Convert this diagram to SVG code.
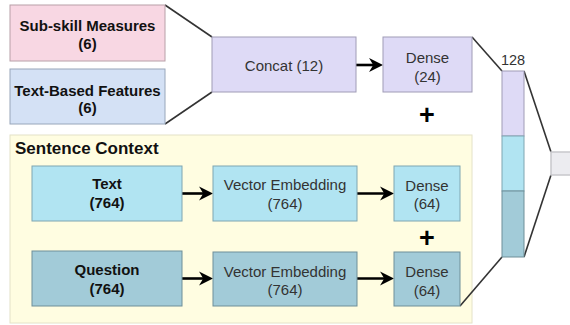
<svg xmlns="http://www.w3.org/2000/svg" width="570" height="325" viewBox="0 0 570 325">
  <defs>
    <style>
      text { font-family: "Liberation Sans", Arial, sans-serif; font-size: 15px; text-anchor: middle; fill: #333333; }
      .b { font-weight: bold; fill: #111111; }
      .plus { font-weight: bold; font-size: 27px; fill: #000000; }
      .edge { stroke: #333333; stroke-width: 1.6; fill: none; }
      .arrow { stroke: #000000; stroke-width: 2.6; fill: none; }
      .pink { fill: #f8d7e3; stroke: #b8a0a8; }
      .blue { fill: #d4e1f5; stroke: #98a6ba; }
      .lav { fill: #dedaf6; stroke: #a09cb6; }
      .cyan { fill: #b1e4f2; stroke: #7fa6b2; }
      .teal { fill: #a2cbd8; stroke: #6f8f99; }
    </style>
    <marker id="ah" viewBox="0 0 10 10" refX="7.1" refY="5" markerWidth="5.4" markerHeight="5.4" orient="auto">
      <path d="M0,0 L10,5 L0,10 L3,5 Z" fill="#000000"/>
    </marker>
  </defs>

  <!-- sentence context container -->
  <g id="sentence-context">
    <rect x="10" y="135" width="462" height="188" fill="#fffde1" stroke="#e4e2c8"/>
    <text x="15" y="154" class="b" style="text-anchor:start;font-size:17px">Sentence Context</text>
  </g>

  <!-- fan-in / fan-out connectors -->
  <g id="connectors">
    <path class="edge" d="M165,5 L212,37"/>
    <path class="edge" d="M165,124 L212,92"/>
    <path class="edge" d="M472,37 L502,71"/>
    <path class="edge" d="M460,306 L502,257"/>
    <path class="edge" d="M524,71 L551,152"/>
    <path class="edge" d="M524,257 L551,175"/>
    <path class="arrow" d="M356,65 L379,65" marker-end="url(#ah)"/>
    <path class="arrow" d="M182,193.5 L209,193.5" marker-end="url(#ah)"/>
    <path class="arrow" d="M357,193.5 L390,193.5" marker-end="url(#ah)"/>
    <path class="arrow" d="M182,278.5 L209,278.5" marker-end="url(#ah)"/>
    <path class="arrow" d="M357,278.5 L390,278.5" marker-end="url(#ah)"/>
  </g>

  <g id="subskill">
    <rect class="pink" x="10" y="5" width="155" height="56"/>
    <text x="87.5" y="31" class="b">Sub-skill Measures</text>
    <text x="87.5" y="48.5" class="b">(6)</text>
  </g>
  <g id="textfeatures">
    <rect class="blue" x="10" y="69" width="155" height="55"/>
    <text x="87.5" y="95.5" class="b">Text-Based Features</text>
    <text x="87.5" y="113" class="b">(6)</text>
  </g>
  <g id="concat">
    <rect class="lav" x="212" y="37" width="144" height="55"/>
    <text x="284" y="71">Concat (12)</text>
  </g>
  <g id="dense24">
    <rect class="lav" x="383" y="37" width="89" height="55"/>
    <text x="427.5" y="63">Dense</text>
    <text x="427.5" y="81.5">(24)</text>
  </g>
  <text x="427" y="123.5" class="plus">+</text>

  <g id="text-input">
    <rect class="cyan" x="32" y="166" width="150" height="55"/>
    <text x="107" y="189" class="b">Text</text>
    <text x="107" y="207.5" class="b">(764)</text>
  </g>
  <g id="text-embed">
    <rect class="cyan" x="213" y="166" width="144" height="55"/>
    <text x="285" y="190">Vector Embedding</text>
    <text x="285" y="208.5">(764)</text>
  </g>
  <g id="text-dense">
    <rect class="cyan" x="394" y="166" width="66" height="55"/>
    <text x="427" y="190.5">Dense</text>
    <text x="427" y="209">(64)</text>
  </g>
  <text x="427" y="247" class="plus">+</text>

  <g id="question-input">
    <rect class="teal" x="32" y="251" width="150" height="55"/>
    <text x="107" y="275" class="b">Question</text>
    <text x="107" y="293.5" class="b">(764)</text>
  </g>
  <g id="question-embed">
    <rect class="teal" x="213" y="252" width="144" height="54"/>
    <text x="285" y="276.5">Vector Embedding</text>
    <text x="285" y="295">(764)</text>
  </g>
  <g id="question-dense">
    <rect class="teal" x="394" y="252" width="66" height="54"/>
    <text x="427" y="277">Dense</text>
    <text x="427" y="295.5">(64)</text>
  </g>

  <g id="combined">
    <text x="513" y="65" style="font-size:14.5px">128</text>
    <rect class="lav" x="502" y="71" width="22" height="65"/>
    <rect class="cyan" x="502" y="136" width="22" height="55"/>
    <rect class="teal" x="502" y="191" width="22" height="66"/>
  </g>
  <g id="output">
    <rect x="551" y="152" width="25" height="23" fill="#ececf0" stroke="#c8c8cc" stroke-width="1.5"/>
  </g>
</svg>
